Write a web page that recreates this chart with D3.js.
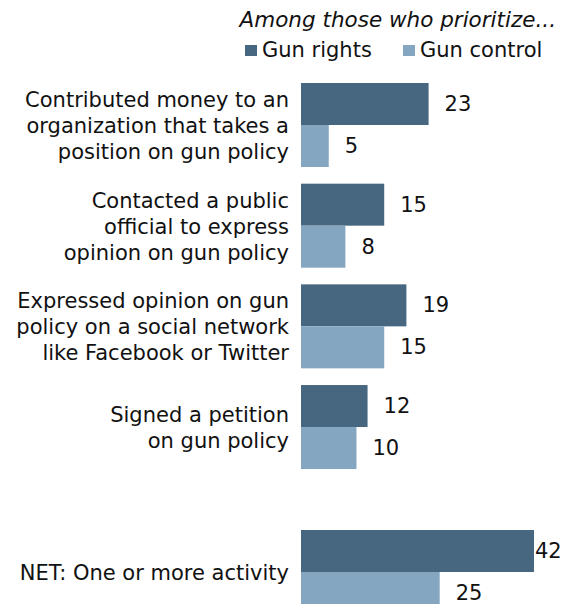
<!DOCTYPE html>
<html>
<head>
<meta charset="utf-8">
<script src="https://cdn.jsdelivr.net/npm/d3@7"></script>
<style>
  body { margin: 0; background: #fff; }
  text { font-family: "DejaVu Sans", Verdana, sans-serif; fill: #111; }
</style>
</head>
<body>
<div id="chart"></div>
<script>
const chartWidth = 571;
const chartHeight = 604;

// activity labels, one array of lines each
const categories = [
  ['Contributed money to an', 'organization that takes a', 'position on gun policy'],
  ['Contacted a public', 'official to express', 'opinion on gun policy'],
  ['Expressed opinion on gun', 'policy on a social network', 'like Facebook or Twitter'],
  ['Signed a petition', 'on gun policy'],
  ['NET: One or more activity']
];
const gunRights = [23, 15, 19, 12, 42];
const gunControl = [5, 8, 15, 10, 25];
const seriesNames = ['Gun rights', 'Gun control'];
const colors = ['#46677f', '#84a6c0'];

const left = 301;
const barH = 42;
const lineH = 26;

const xScale = d3.scaleLinear()
                  .domain([0, 42])
                  .range([0, 233]);

// first four groups evenly spaced, NET set apart below
const yScale = d3.scaleBand()
                  .domain(d3.range(4))
                  .range([83, 469])
                  .paddingInner(0.166)
                  .paddingOuter(0);
const groupTop = i => i < 4 ? yScale(i) : 530;

const svg = d3.select('#chart')
              .append('svg')
              .attr('width', chartWidth)
              .attr('height', chartHeight);

// legend
svg.append('text')
    .attr('x', 556)
    .attr('y', 27)
    .attr('text-anchor', 'end')
    .style('font-size', '21.5px')
    .style('font-style', 'italic')
    .text('Among those who prioritize...');

const legendX = [245, 403];
seriesNames.forEach((name, i) => {
  svg.append('rect')
      .attr('x', legendX[i])
      .attr('y', 45)
      .attr('width', 12)
      .attr('height', 11)
      .attr('fill', colors[i]);
  svg.append('text')
      .attr('x', legendX[i] + 17)
      .attr('y', 57)
      .style('font-size', '21px')
      .text(name);
});

const groups = svg.selectAll('.group')
  .data(categories.map((lines, i) => ({lines, i, vals: [gunRights[i], gunControl[i]]})))
  .enter().append('g')
    .attr('class', 'group')
    .attr('transform', d => 'translate(0,' + groupTop(d.i) + ')');

// category labels, centered on the pair of bars
groups.append('text')
    .attr('text-anchor', 'end')
    .style('font-size', '21px')
    .each(function(d) {
      const n = d.lines.length;
      d3.select(this).selectAll('tspan')
        .data(d.lines)
        .enter().append('tspan')
          .attr('x', 289)
          .attr('y', (l, j) => barH + (j - (n - 1) / 2) * lineH + 8)
          .text(l => l);
    });

groups.selectAll('.bar')
  .data(d => d.vals)
  .enter().append('rect')
    .attr('class', 'bar')
    .attr('x', left)
    .attr('y', (v, j) => j * barH)
    .attr('width', v => xScale(v))
    .attr('height', barH)
    .attr('fill', (v, j) => colors[j]);

groups.selectAll('.val')
  .data(d => d.vals)
  .enter().append('text')
    .attr('class', 'val')
    .attr('x', v => Math.min(left + xScale(v) + 16, chartWidth - 36))
    .attr('y', (v, j) => j * barH + barH / 2 + 7)
    .style('font-size', '21px')
    .text(v => v);
</script>
</body>
</html>
